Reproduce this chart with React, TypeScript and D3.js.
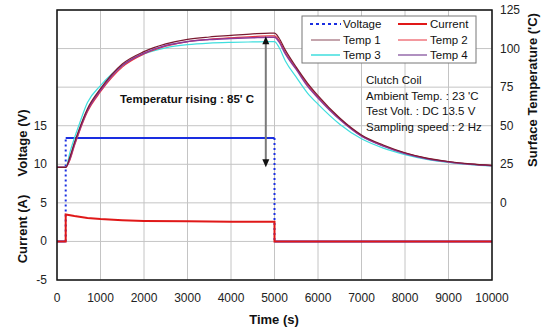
import React from 'react';
import * as d3 from 'd3';

// time axis samples (s)
const tempTimes = [0, 200, 300, 400, 500, 700, 1000, 1500, 2000, 2500, 3000, 3500, 4000, 4500, 4900, 5000, 5100, 5250, 5500, 5750, 6000, 6500, 7000, 7500, 8000, 8500, 9000, 9500, 10000];
const temp1 = [23, 23, 30, 39, 47, 61, 74, 90, 98, 103, 106, 107.5, 108.5, 109.5, 110, 110, 107, 99, 88, 78, 69.5, 55, 44, 37.5, 32.5, 29, 26.8, 25.3, 24.3];
const temp2 = [23, 23, 28, 37, 45, 59, 72, 88, 96.5, 101.5, 104.5, 106, 107, 107.8, 108.2, 108.2, 105.5, 97.5, 87, 77, 68.5, 54.5, 43.5, 37, 32.2, 28.8, 26.6, 25.1, 24.1];
const temp3 = [23, 23, 33, 42, 50, 65, 76, 89, 96.5, 100.5, 102.5, 103.5, 104, 104.3, 104.5, 104.5, 101, 92, 81.5, 71.5, 64, 51, 41.5, 35.5, 31.3, 28.2, 26.2, 24.8, 23.9];
const temp4 = [23, 23, 29, 38, 46, 60, 73, 89, 97, 102, 104.5, 105.8, 106.5, 107, 107.3, 107.3, 104.5, 96.5, 86.5, 76, 68, 54, 43.2, 36.8, 32, 28.6, 26.5, 25, 24];

const voltTimes = [0, 200, 200, 5000, 5000, 10000];
const voltage = [0, 0, 13.4, 13.4, 0, 0];

const currTimes = [0, 200, 200, 400, 700, 1000, 1500, 2000, 3000, 4000, 5000, 5000, 10000];
const current = [0, 0, 3.5, 3.3, 3.05, 2.9, 2.75, 2.66, 2.6, 2.56, 2.54, 0, 0];

const xTicks = [0, 1000, 2000, 3000, 4000, 5000, 6000, 7000, 8000, 9000, 10000];
const leftTicks = [-5, 0, 5, 10, 15];
const leftGrid = [-5, 0, 5, 10, 15, 20, 25, 30];
const rightTicks = [0, 25, 50, 75, 100, 125];

const infoLines = ['Clutch Coil', "Ambient Temp. : 23 'C", 'Test Volt. : DC 13.5 V', 'Sampling speed : 2 Hz'];

const font = '"Liberation Sans", Arial, sans-serif';

const App = () => {
  const width = 544, height = 332;
  const left = 57, right = 492, top = 10, bottom = 280;

  const x = d3.scaleLinear().domain([0, 10000]).range([left, right]);
  const yL = d3.scaleLinear().domain([-5, 30]).range([bottom, top]);
  const yR = d3.scaleLinear().domain([-50, 125]).range([bottom, top]);

  const tempLine = (vals: number[]) =>
    d3.line<number>()
      .x((_, i) => x(tempTimes[i]))
      .y(d => yR(d))
      .curve(d3.curveMonotoneX)(vals) as string;

  const currPath = d3.line<number>()
    .x((_, i) => x(currTimes[i]))
    .y(d => yL(d))(current) as string;

  // voltage: level parts solid, switching edges dotted
  const voltSegs = voltTimes.slice(1).map((t, i) => ({
    d: `M${x(voltTimes[i])},${yL(voltage[i])}L${x(t)},${yL(voltage[i + 1])}`,
    vertical: t === voltTimes[i],
  }));

  const temps = [
    { name: 'Temp 3', vals: temp3, color: '#3fdede', w: 1.2 },
    { name: 'Temp 2', vals: temp2, color: '#e8333f', w: 1.2 },
    { name: 'Temp 4', vals: temp4, color: '#8a3a9a', w: 1.5 },
    { name: 'Temp 1', vals: temp1, color: '#7a1a30', w: 1.2 },
  ];

  const arrowT = 4800;
  const ax = x(arrowT), ay1 = yR(108), ay2 = yR(23);

  return (
    <svg width={width} height={height} style={{ position: 'absolute', left: 0, top: 0, background: '#fff' }}
      fontFamily={font}>
      {/* grid */}
      {xTicks.map(t => (
        <line key={'gx' + t} x1={x(t)} x2={x(t)} y1={top} y2={bottom} stroke="#c4c4c4" strokeWidth={1} />
      ))}
      {leftGrid.map(v => (
        <line key={'gy' + v} x1={left} x2={right} y1={yL(v)} y2={yL(v)} stroke="#c4c4c4" strokeWidth={1} />
      ))}

      {/* voltage */}
      {voltSegs.map((s, i) => (
        <path key={'v' + i} d={s.d} fill="none" stroke="#1a2ee0" strokeWidth={2}
          strokeDasharray={s.vertical ? '2,3' : undefined} />
      ))}

      {/* current */}
      <path d={currPath} fill="none" stroke="#e01818" strokeWidth={2} />

      {/* temperatures */}
      {temps.map(s => (
        <path key={s.name} d={tempLine(s.vals)} fill="none" stroke={s.color} strokeWidth={s.w} />
      ))}

      {/* rise annotation */}
      <line x1={ax} x2={ax} y1={ay1 + 4} y2={ay2 - 4} stroke="#7a7a7a" strokeWidth={2} />
      <path d={`M${ax},${ay1}l-3.5,8h7z`} fill="#111" />
      <path d={`M${ax},${ay2}l-3.5,-8h7z`} fill="#111" />
      <text x={187} y={103} fontSize={11.5} fontWeight="bold" textAnchor="middle" fill="#111">
        Temperatur rising : 85' C
      </text>

      {/* info text */}
      {infoLines.map((t, i) => (
        <text key={t} x={366} y={84 + i * 15.5} fontSize={11.5} fill="#111">{t}</text>
      ))}

      {/* legend */}
      <rect x={302} y={16} width={174} height={47} fill="#fff" stroke="#777" strokeWidth={1} />
      <line x1={310} x2={341} y1={24} y2={24} stroke="#1a2ee0" strokeWidth={2} strokeDasharray="3,3" />
      <text x={343} y={28} fontSize={11.5} fill="#111">Voltage</text>
      <line x1={398} x2={427} y1={24} y2={24} stroke="#e01818" strokeWidth={2} />
      <text x={430} y={28} fontSize={11.5} fill="#111">Current</text>
      <line x1={311} x2={340} y1={40} y2={40} stroke="#8a4a5a" strokeWidth={1} />
      <text x={343} y={44} fontSize={11.5} fill="#111">Temp 1</text>
      <line x1={398} x2={427} y1={40} y2={40} stroke="#e8333f" strokeWidth={1} />
      <text x={430} y={44} fontSize={11.5} fill="#111">Temp 2</text>
      <line x1={311} x2={340} y1={55} y2={55} stroke="#3fdede" strokeWidth={1.5} />
      <text x={343} y={59} fontSize={11.5} fill="#111">Temp 3</text>
      <line x1={398} x2={427} y1={55} y2={55} stroke="#b090c0" strokeWidth={2} />
      <text x={430} y={59} fontSize={11.5} fill="#111">Temp 4</text>

      {/* frame */}
      <rect x={left} y={top} width={right - left} height={bottom - top} fill="none" stroke="#111" strokeWidth={1.5} />

      {/* axes labels */}
      {xTicks.map(t => (
        <text key={'xt' + t} x={x(t)} y={302} fontSize={12} textAnchor="middle" fill="#222">{t}</text>
      ))}
      {leftTicks.map(v => (
        <text key={'lt' + v} x={47} y={yL(v) + 4} fontSize={12} textAnchor="end" fill="#222">{v}</text>
      ))}
      {rightTicks.map(v => (
        <text key={'rt' + v} x={500} y={yR(v) + 4} fontSize={12} textAnchor="start" fill="#222">{v}</text>
      ))}

      <text x={274} y={324} fontSize={13} fontWeight="bold" textAnchor="middle" fill="#111">Time (s)</text>
      <text transform="translate(27,143) rotate(-90)" fontSize={13} fontWeight="bold" textAnchor="middle" fill="#111">Voltage (V)</text>
      <text transform="translate(27,229) rotate(-90)" fontSize={13} fontWeight="bold" textAnchor="middle" fill="#111">Current (A)</text>
      <text transform="translate(537,90) rotate(-90)" fontSize={13} fontWeight="bold" textAnchor="middle" fill="#111">Surface Temperature ('C)</text>
    </svg>
  );
};

export default App;
